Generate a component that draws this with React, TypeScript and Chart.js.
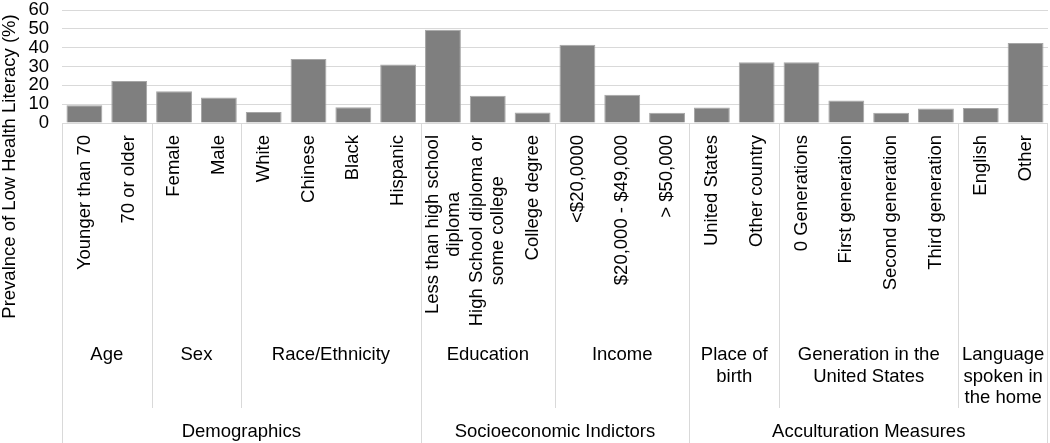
import React, { useEffect, useRef } from 'react';
import { Chart, registerables } from 'chart.js';

Chart.register(...registerables);

const categories: string[] = [
  'Younger than 70',
  '70 or older',
  'Female',
  'Male',
  'White',
  'Chinese',
  'Black',
  'Hispanic',
  'Less than high school\ndiploma',
  'High School diploma or\nsome college',
  'College degree',
  '<$20,0000',
  '$20,000 - $49,000',
  '> $50,000',
  'United States',
  'Other country',
  '0 Generations',
  'First generation',
  'Second generation',
  'Third generation',
  'English',
  'Other',
];

const values: number[] = [
  9.4, 22.3, 16.8, 13.5, 5.9, 34.0, 8.4, 31.0, 49.5, 14.5, 5.6, 41.6, 15.0, 5.5, 8.2, 32.3,
  32.3, 11.9, 5.5, 7.7, 8.0, 42.5,
];

const subgroupLabels: string[] = [
  'Age',
  'Sex',
  'Race/Ethnicity',
  'Education',
  'Income',
  'Place of\nbirth',
  'Generation in the\nUnited States',
  'Language\nspoken in\nthe home',
];
const subgroupSizes: number[] = [2, 2, 4, 3, 3, 2, 4, 2];

const groupLabels: string[] = ['Demographics', 'Socioeconomic Indictors', 'Acculturation Measures'];
const groupSizes: number[] = [8, 6, 8];

const yTitle = 'Prevalnce of Low Health Literacy (%)';
const yMin = 0;
const yMax = 60;
const yStep = 10;

const FONT_FAMILY = '"Liberation Sans", Arial, sans-serif';
const FONT_SIZE = 18.5;
const TEXT_COLOR = '#000000';
const LINE_COLOR = '#d9d9d9';

const multiLevelAxis = {
  id: 'multiLevelAxis',
  afterDraw(chart: any) {
    const ctx: CanvasRenderingContext2D = chart.ctx;
    const xs = chart.scales.x;
    const area = chart.chartArea;
    const H = chart.height;
    const edge = (i: number) => xs.getPixelForValue(i - 0.5);
    const axisY = area.bottom;
    const sepBottom1 = axisY + 285;

    ctx.save();
    ctx.font = `${FONT_SIZE}px ${FONT_FAMILY}`;
    ctx.fillStyle = TEXT_COLOR;

    // rotated category labels
    const lh = 21;
    categories.forEach((label, i) => {
      const cx = xs.getPixelForValue(i);
      const lines = label.split('\n');
      const maxW = Math.max(...lines.map((l) => ctx.measureText(l).width));
      ctx.save();
      ctx.translate(cx, axisY + 12);
      ctx.rotate(-Math.PI / 2);
      ctx.textAlign = 'center';
      ctx.textBaseline = 'middle';
      lines.forEach((l, k) => {
        ctx.fillText(l, -maxW / 2, (k - (lines.length - 1) / 2) * lh);
      });
      ctx.restore();
    });

    // separators
    ctx.strokeStyle = LINE_COLOR;
    ctx.lineWidth = 1;
    const vline = (x: number, y0: number, y1: number) => {
      const px = Math.round(x) + 0.5;
      ctx.beginPath();
      ctx.moveTo(px, y0);
      ctx.lineTo(px, y1);
      ctx.stroke();
    };

    let start = 0;
    const groupStarts = new Set<number>([0]);
    let acc = 0;
    groupSizes.forEach((s) => {
      acc += s;
      groupStarts.add(acc);
    });
    subgroupSizes.forEach((s, gi) => {
      const x0 = edge(start);
      const x1 = edge(start + s);
      if (!groupStarts.has(start)) vline(x0, axisY, sepBottom1);
      const cx = (x0 + x1) / 2;
      const lines = subgroupLabels[gi].split('\n');
      ctx.textAlign = 'center';
      ctx.textBaseline = 'middle';
      lines.forEach((l, k) => ctx.fillText(l, cx, axisY + 232 + k * 21.7));
      start += s;
    });

    start = 0;
    groupSizes.forEach((s, gi) => {
      const x0 = edge(start);
      const x1 = edge(start + s);
      vline(x0, axisY, H);
      if (gi === groupSizes.length - 1) vline(x1 - 1, axisY, H);
      ctx.textAlign = 'center';
      ctx.textBaseline = 'middle';
      ctx.fillText(groupLabels[gi], (x0 + x1) / 2, axisY + 309);
      start += s;
    });

    // y axis title
    ctx.save();
    ctx.translate(10, 166.5);
    ctx.rotate(-Math.PI / 2);
    ctx.textAlign = 'center';
    ctx.textBaseline = 'middle';
    ctx.fillText(yTitle, 0, 0);
    ctx.restore();

    ctx.restore();
  },
};

export default function App() {
  const ref = useRef<HTMLCanvasElement | null>(null);
  useEffect(() => {
    if (!ref.current) return;
    const chart = new Chart(ref.current, {
      type: 'bar',
      data: {
        labels: categories,
        datasets: [
          {
            data: values,
            backgroundColor: '#7f7f7f',
            borderColor: '#a6a6a6',
            borderWidth: 1,
            barPercentage: 0.8,
            categoryPercentage: 1,
          },
        ],
      },
      options: {
        animation: false,
        responsive: false,
        maintainAspectRatio: false,
        layout: { padding: { top: 10, right: 2, left: 0, bottom: 0 } },
        plugins: {
          legend: { display: false },
          tooltip: { enabled: false },
          title: { display: false },
        },
        scales: {
          x: {
            ticks: { display: false },
            grid: { display: false, drawTicks: false },
            border: { display: false },
            afterFit: (scale: any) => {
              scale.height = 320;
              scale.paddingLeft = 0;
              scale.paddingRight = 0;
            },
          },
          y: {
            min: yMin,
            max: yMax,
            ticks: {
              stepSize: yStep,
              autoSkip: false,
              padding: 13,
              color: TEXT_COLOR,
              font: { family: FONT_FAMILY, size: FONT_SIZE, lineHeight: 1 },
            },
            grid: { color: LINE_COLOR, drawTicks: false },
            border: { display: false },
            afterFit: (scale: any) => {
              scale.width = 62;
              scale.paddingTop = 0;
              scale.paddingBottom = 0;
            },
          },
        },
      },
      plugins: [multiLevelAxis],
    });
    return () => chart.destroy();
  }, []);
  return (
    <div style={{ position: 'fixed', left: 0, top: 0, width: 1050, height: 443, background: '#fff' }}>
      <canvas ref={ref} width={1050} height={443} style={{ width: 1050, height: 443 }} />
    </div>
  );
}
